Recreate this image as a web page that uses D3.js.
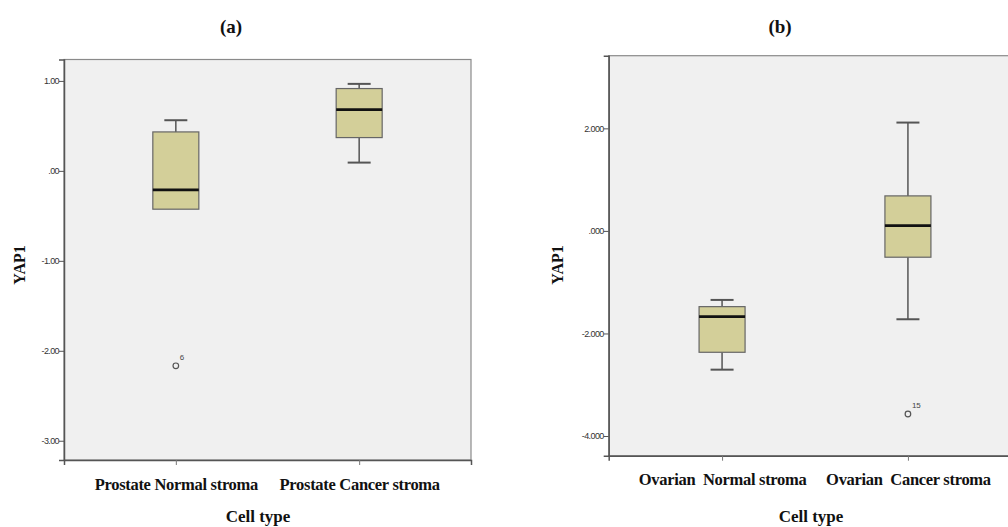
<!DOCTYPE html>
<html><head><meta charset="utf-8">
<script src="https://cdn.jsdelivr.net/npm/d3@7"></script>
<style>
body{margin:0;background:#fff;}
svg text{font-family:"Liberation Serif","Times New Roman",serif;}
.yax .tick text{font-family:"Liberation Sans",Arial,sans-serif;}
.xax .tick text{font-family:"Liberation Serif","Times New Roman",serif;font-weight:bold;}
</style></head>
<body><svg id="c" width="1008" height="527"></svg>
<script>
// Panel (a)
const catsA = ["Prostate Normal stroma", "Prostate Cancer stroma"];
const whiskLowA = [-0.426, 0.092];
const q1A = [-0.426, 0.37];
const medA = [-0.211, 0.681];
const q3A = [0.433, 0.915];
const whiskHighA = [0.563, 0.967];
const outliersA = [{cat: 0, value: -2.167, label: "6"}];
const ticksA = [1, 0, -1, -2, -3];
const tickLabelsA = ["1.00", ".00", "-1.00", "-2.00", "-3.00"];

// Panel (b)
const catsB = ["Ovarian  Normal stroma", "Ovarian  Cancer stroma"];
const whiskLowB = [-2.706, -1.723];
const q1B = [-2.367, -0.513];
const medB = [-1.672, 0.104];
const q3B = [-1.477, 0.683];
const whiskHighB = [-1.346, 2.113];
const outliersB = [{cat: 1, value: -3.571, label: "15"}];
const ticksB = [2, 0, -2, -4];
const tickLabelsB = ["2.000", ".000", "-2.000", "-4.000"];

const svg = d3.select("#c");

function panel(o){
  const g = svg.append("g");
  const x = d3.scalePoint().domain(o.cats).range([o.x0, o.x1]).padding(0.61);
  const y = d3.scaleLinear().domain(o.ydom).range([o.y1, o.y0]);
  g.append("rect").attr("x", o.x0).attr("y", o.y0).attr("width", o.x1 - o.x0).attr("height", o.y1 - o.y0)
    .attr("fill", "#f0f0f0").attr("stroke", "#8a8a8a").attr("stroke-width", 1.2);
  // y axis
  const ya = g.append("g").attr("class", "yax").attr("transform", `translate(${o.x0},0)`)
    .call(d3.axisLeft(y).tickValues(o.ticks).tickSize(5).tickFormat((d,i)=>o.tickLabels[i]));
  ya.select(".domain").attr("stroke", "#555").attr("stroke-width", 1.5);
  ya.selectAll(".tick line").attr("stroke", "#555");
  ya.selectAll(".tick text").attr("font-size", 9).attr("fill", "#333").attr("letter-spacing", "-0.6px").attr("x", -5);
  // x axis
  const xa = g.append("g").attr("class", "xax").attr("transform", `translate(0,${o.y1})`)
    .call(d3.axisBottom(x).tickSize(5).tickPadding(13));
  xa.select(".domain").attr("stroke", "#555").attr("stroke-width", 1.5);
  xa.selectAll(".tick line").attr("stroke", "#777");
  xa.selectAll(".tick text").attr("font-size", 16.5).attr("fill", "#111").style("white-space", "pre").attr("letter-spacing", "-0.3px");

  const bw = 46, cap = 11.5;
  o.cats.forEach((c, i) => {
    const cx = x(c);
    const bg = g.append("g");
    if (o.hi[i] > o.q3[i]) {
      bg.append("line").attr("x1", cx).attr("x2", cx).attr("y1", y(o.q3[i])).attr("y2", y(o.hi[i])).attr("stroke", "#555").attr("stroke-width", 1.5);
      bg.append("line").attr("x1", cx - cap).attr("x2", cx + cap).attr("y1", y(o.hi[i])).attr("y2", y(o.hi[i])).attr("stroke", "#555").attr("stroke-width", 2);
    }
    if (o.lo[i] < o.q1[i]) {
      bg.append("line").attr("x1", cx).attr("x2", cx).attr("y1", y(o.q1[i])).attr("y2", y(o.lo[i])).attr("stroke", "#555").attr("stroke-width", 1.5);
      bg.append("line").attr("x1", cx - cap).attr("x2", cx + cap).attr("y1", y(o.lo[i])).attr("y2", y(o.lo[i])).attr("stroke", "#555").attr("stroke-width", 2);
    }
    bg.append("rect").attr("x", cx - bw/2).attr("y", y(o.q3[i])).attr("width", bw).attr("height", y(o.q1[i]) - y(o.q3[i]))
      .attr("fill", "#d3cf99").attr("stroke", "#666").attr("stroke-width", 1.2);
    bg.append("line").attr("x1", cx - bw/2).attr("x2", cx + bw/2).attr("y1", y(o.med[i])).attr("y2", y(o.med[i])).attr("stroke", "#111").attr("stroke-width", 2.8);
  });
  o.out.forEach(p => {
    const cx = x(o.cats[p.cat]);
    g.append("circle").attr("cx", cx).attr("cy", y(p.value)).attr("r", 2.8).attr("fill", "none").attr("stroke", "#555").attr("stroke-width", 1.2);
    g.append("text").attr("x", cx + 4).attr("y", y(p.value) - 6).style("font-family", "'Liberation Sans',Arial,sans-serif")
      .attr("font-size", 8).attr("fill", "#444").text(p.label);
  });
  // labels
  g.append("text").attr("x", o.titleX).attr("y", 33).attr("text-anchor", "middle").attr("font-weight", "bold").attr("font-size", 19).attr("fill", "#111").text(o.title);
  g.append("text").attr("transform", `translate(${o.ylabX},${o.ylabY}) rotate(-90)`).attr("text-anchor", "middle")
    .attr("font-weight", "bold").attr("font-size", 16).attr("fill", "#111").text("YAP1");
  g.append("text").attr("x", o.xlabX).attr("y", o.xlabY).attr("text-anchor", "middle").attr("font-weight", "bold").attr("font-size", 17).attr("fill", "#111").text("Cell type");
}

panel({cats: catsA, lo: whiskLowA, q1: q1A, med: medA, q3: q3A, hi: whiskHighA, out: outliersA,
  ticks: ticksA, tickLabels: tickLabelsA, ydom: [-3.214, 1.238],
  x0: 64, x1: 471, y0: 59.5, y1: 460, title: "(a)", titleX: 231, ylabX: 25, ylabY: 265, xlabX: 258, xlabY: 522});
panel({cats: catsB, lo: whiskLowB, q1: q1B, med: medB, q3: q3B, hi: whiskHighB, out: outliersB,
  ticks: ticksB, tickLabels: tickLabelsB, ydom: [-4.384, 3.417],
  x0: 608.7, x1: 1021.3, y0: 55.7, y1: 455.7, title: "(b)", titleX: 780, ylabX: 563, ylabY: 265, xlabX: 811, xlabY: 522});
</script></body></html>
